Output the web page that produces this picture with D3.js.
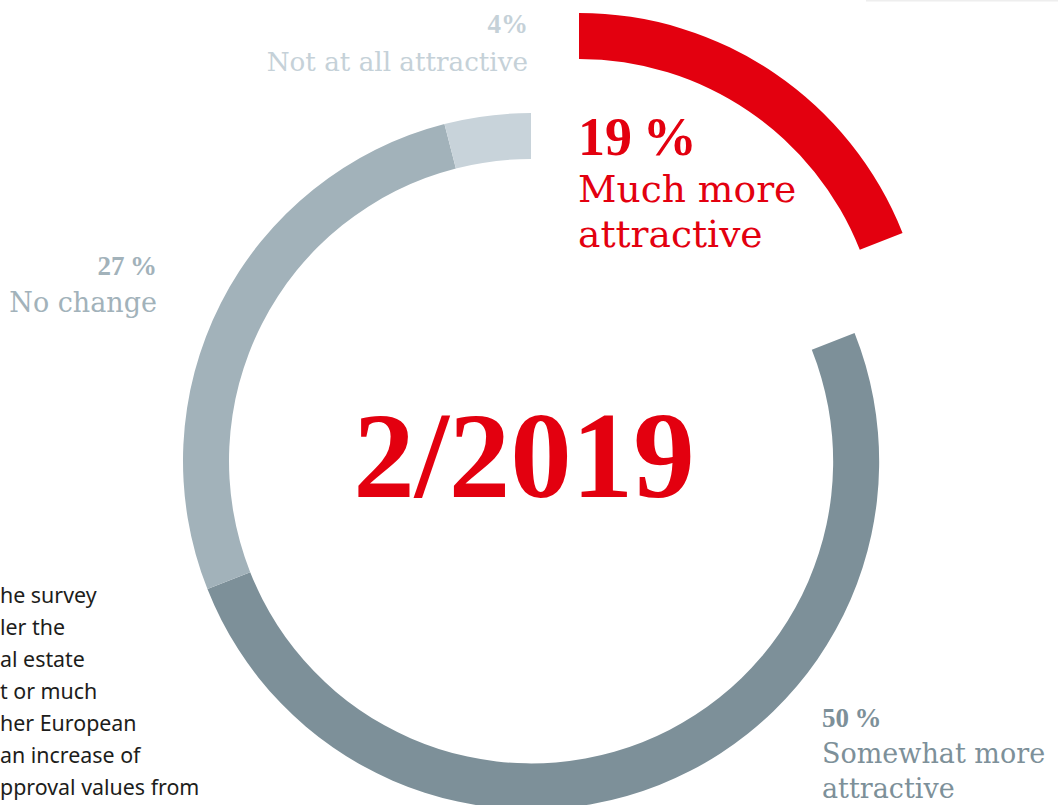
<!DOCTYPE html>
<html>
<head>
<meta charset="utf-8">
<script src="https://cdn.jsdelivr.net/npm/d3@7"></script>
<style>
  html, body { margin: 0; padding: 0; background: #ffffff; overflow: hidden; }
  svg { display: block; }
</style>
</head>
<body>
<svg id="chart" width="1058" height="805"></svg>
<script>
// ---- data ----
const categories = ["Much more attractive", "Somewhat more attractive", "No change", "Not at all attractive"];
const values = [19, 50, 27, 4];
const percentLabels = ["19\u2009%", "50\u2009%", "27\u2009%", "4%"];
const nameLines = [["Much more", "attractive"], ["Somewhat more", "attractive"], ["No change"], ["Not at all attractive"]];
const centerLabel = "2/2019";
const noteLines = ["he survey", "ler the", "al estate", "t or much", "her European", "an increase of", "pproval values from"];

// ---- style / layout ----
const W = 1058, H = 805;
const cx = 531, cy = 461;
const rOuter = 348, rInner = 302;
const sliceColors = ["#e3000f", "#7d9099", "#a2b2ba", "#c8d3da"];
const labelColors = ["#e3000f", "#7d9099", "#a2b2ba", "#c5d1d8"];
const explodeOffset = [48, -100]; // highlighted slice pulled out

const svg = d3.select("#chart");

const data = categories.map((c, i) => ({ category: c, value: values[i], idx: i }));
const pie = d3.pie().sort(null).value(d => d.value).startAngle(0).endAngle(2 * Math.PI);
const arc = d3.arc().innerRadius(rInner).outerRadius(rOuter);
const arcs = pie(data);

// faint rule at the very top right
svg.append("rect").attr("x", 866).attr("y", 0).attr("width", W - 866).attr("height", 1.5).attr("fill", "#eeeeee");

const g = svg.append("g").attr("transform", `translate(${cx},${cy})`);
g.selectAll("path.slice")
  .data(arcs)
  .join("path")
  .attr("class", "slice")
  .attr("d", arc)
  .attr("fill", d => sliceColors[d.data.idx])
  .attr("transform", d => d.data.idx === 0 ? `translate(${explodeOffset[0]},${explodeOffset[1]})` : null);

// center label
svg.append("text")
  .attr("x", 524).attr("y", 497)
  .attr("text-anchor", "middle")
  .attr("font-family", "'Liberation Serif', serif")
  .attr("font-weight", "bold")
  .attr("font-size", 123)
  .attr("fill", "#e3000f")
  .text(centerLabel);

// label layout: [x, pctBaseline, firstLineBaseline, lineGap, anchor, pctSize, nameSize]
const labelLayout = [
  [578, 155, 202, 45, "start", 54, 37.6],
  [822, 727, 763, 35, "start", 27, 27],
  [157, 275, 312, 36, "end", 27, 27],
  [528, 33, 71, 36, "end", 27, 26.2]
];

data.forEach((d, i) => {
  const [x, py, ny, gap, anchor, ps, ns] = labelLayout[i];
  svg.append("text")
    .attr("x", x).attr("y", py)
    .attr("text-anchor", anchor)
    .attr("font-family", "'Liberation Serif', serif")
    .attr("font-weight", "bold")
    .attr("font-size", ps)
    .attr("fill", labelColors[i])
    .text(percentLabels[i]);
  nameLines[i].forEach((ln, j) => {
    svg.append("text")
      .attr("x", x).attr("y", ny + j * gap)
      .attr("text-anchor", anchor)
      .attr("font-family", "'DejaVu Serif', serif")
      .attr("font-size", ns)
      .attr("fill", labelColors[i])
      .text(ln);
  });
});

// clipped note text at bottom left
noteLines.forEach((ln, j) => {
  svg.append("text")
    .attr("x", 0).attr("y", 603 + j * 32)
    .attr("font-family", "'Noto Sans', sans-serif")
    .attr("font-size", 21.4)
    .attr("fill", "#1d1d1b")
    .text(ln);
});
</script>
</body>
</html>
